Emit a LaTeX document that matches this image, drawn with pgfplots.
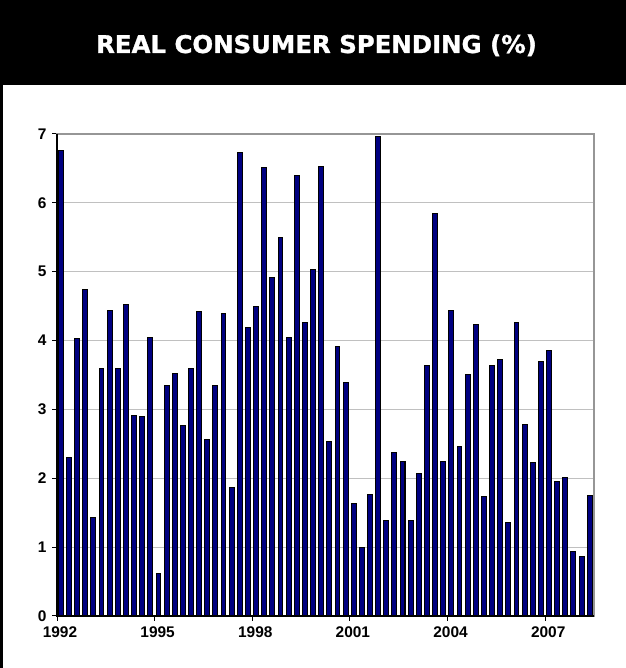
\documentclass[border=0pt]{standalone}
\usepackage{fontspec}
\setmainfont{Liberation Sans}
\newfontfamily\titlefont{DejaVu Sans}[BoldFeatures={FakeBold=1.2}]
\usepackage{pgfplots}
\usepackage{pgfplotstable}
\pgfplotsset{compat=1.18}
\definecolor{barnavy}{RGB}{0,0,128}
\definecolor{gridgray}{RGB}{192,192,192}
\definecolor{framegray}{RGB}{150,150,150}
\pgfplotstableread{
i v
0 6.76
1 2.30
2 4.03
3 4.74
4 1.43
5 3.60
6 4.44
7 3.60
8 4.52
9 2.91
10 2.89
11 4.05
12 0.62
13 3.35
14 3.52
15 2.76
16 3.59
17 4.42
18 2.57
19 3.35
20 4.40
21 1.86
22 6.73
23 4.19
24 4.50
25 6.52
26 4.91
27 5.50
28 4.05
29 6.39
30 4.26
31 5.03
32 6.53
33 2.53
34 3.92
35 3.39
36 1.64
37 0.99
38 1.77
39 6.96
40 1.39
41 2.37
42 2.25
43 1.39
44 2.07
45 3.64
46 5.84
47 2.25
48 4.44
49 2.46
50 3.50
51 4.24
52 1.73
53 3.64
54 3.73
55 1.36
56 4.26
57 2.78
58 2.23
59 3.70
60 3.86
61 1.96
62 2.01
63 0.94
64 0.86
65 1.75
}\spending
\begin{document}
\begin{tikzpicture}[x=1bp,y=1bp]
\useasboundingbox (0,0) rectangle (626,668);
\fill[black] (0,583) rectangle (626,668);
\fill[black] (0,0) rectangle (3.3,583);
\node[anchor=base, text=white, inner sep=0pt] at (316.5,615)
  {\titlefont\bfseries\fontsize{24.5}{28}\selectfont REAL CONSUMER SPENDING (\%)};
\begin{axis}[
  at={(57bp,52bp)}, anchor=south west,
  scale only axis, width=537bp, height=482bp,
  xmin=0, xmax=66, ymin=0, ymax=7,
  ybar, bar width=0.6,
  xtick={0,12,24,36,48,60},
  xticklabels={1992,1995,1998,2001,2004,2007},
  ytick={0,1,2,3,4,5,6,7},
  tick pos=left, tick align=outside,
  major tick length=5bp,
  tick style={black, line width=1bp},
  ymajorgrids, grid style={gridgray, line width=1bp},
  axis line style={framegray, line width=1.8bp},
  /pgf/number format/assume math mode=true,
  ticklabel style={font=\bfseries\fontsize{15.5}{18}\selectfont},
  yticklabel style={xshift=-2bp},
  xticklabel style={yshift=-2bp, xshift=3bp},
  clip=false,
  execute at end axis={
    \draw[black, line width=1.5bp] (rel axis cs:0,1) -- (rel axis cs:0,0) -- (rel axis cs:1,0);
  },
]
\addplot[fill=barnavy, draw=black, line width=1bp]
  table[x expr=\thisrow{i}+0.47, y=v] {\spending};
\end{axis}
\end{tikzpicture}
\end{document}
